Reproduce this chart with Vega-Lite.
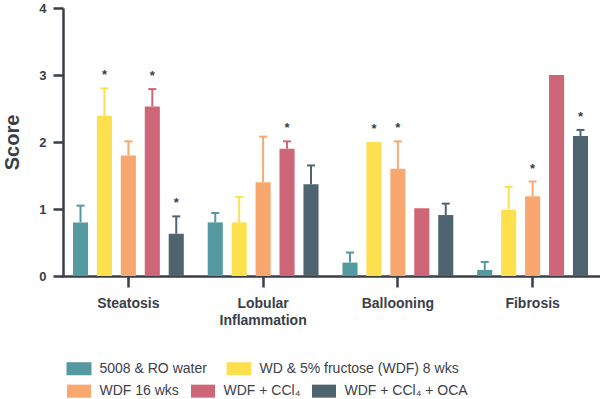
{
  "$schema": "https://vega.github.io/schema/vega-lite/v6.json",
  "width": 539,
  "height": 268,
  "autosize": {"type": "none"},
  "padding": {"left": 61, "top": 8, "right": 0, "bottom": 123},
  "background": "white",
  "config": {"view": {"stroke": null}, "font": "Liberation Sans"},
  "data": {
    "values": [
      {"cat": "Steatosis", "group": "5008 & RO water", "value": 0.8, "hi": 1.05, "star": false},
      {"cat": "Steatosis", "group": "WD & 5% fructose (WDF) 8 wks", "value": 2.39, "hi": 2.8, "star": true},
      {"cat": "Steatosis", "group": "WDF 16 wks", "value": 1.8, "hi": 2.01, "star": false},
      {"cat": "Steatosis", "group": "WDF + CCl₄", "value": 2.53, "hi": 2.79, "star": true},
      {"cat": "Steatosis", "group": "WDF + CCl₄ +  OCA", "value": 0.63, "hi": 0.89, "star": true},
      {"cat": "Lobular Inflammation", "group": "5008 & RO water", "value": 0.8, "hi": 0.94, "star": false},
      {"cat": "Lobular Inflammation", "group": "WD & 5% fructose (WDF) 8 wks", "value": 0.8, "hi": 1.18, "star": false},
      {"cat": "Lobular Inflammation", "group": "WDF 16 wks", "value": 1.4, "hi": 2.08, "star": false},
      {"cat": "Lobular Inflammation", "group": "WDF + CCl₄", "value": 1.9, "hi": 2.01, "star": true},
      {"cat": "Lobular Inflammation", "group": "WDF + CCl₄ +  OCA", "value": 1.37, "hi": 1.65, "star": false},
      {"cat": "Ballooning", "group": "5008 & RO water", "value": 0.2, "hi": 0.35, "star": false},
      {"cat": "Ballooning", "group": "WD & 5% fructose (WDF) 8 wks", "value": 2.0, "hi": null, "star": true},
      {"cat": "Ballooning", "group": "WDF 16 wks", "value": 1.6, "hi": 2.01, "star": true},
      {"cat": "Ballooning", "group": "WDF + CCl₄", "value": 1.01, "hi": null, "star": false},
      {"cat": "Ballooning", "group": "WDF + CCl₄ +  OCA", "value": 0.91, "hi": 1.08, "star": false},
      {"cat": "Fibrosis", "group": "5008 & RO water", "value": 0.09, "hi": 0.21, "star": false},
      {"cat": "Fibrosis", "group": "WD & 5% fructose (WDF) 8 wks", "value": 0.99, "hi": 1.33, "star": false},
      {"cat": "Fibrosis", "group": "WDF 16 wks", "value": 1.19, "hi": 1.41, "star": true},
      {"cat": "Fibrosis", "group": "WDF + CCl₄", "value": 3.0, "hi": null, "star": false},
      {"cat": "Fibrosis", "group": "WDF + CCl₄ +  OCA", "value": 2.09, "hi": 2.18, "star": true}
    ]
  },
  "encoding": {
    "x": {
      "field": "cat", "type": "nominal",
      "sort": ["Steatosis", "Lobular Inflammation", "Ballooning", "Fibrosis"],
      "scale": {"paddingInner": 0, "paddingOuter": 0},
      "axis": {
        "title": null, "labelAngle": 0,
        "domainColor": "#3a3e48", "domainWidth": 2.5,
        "tickColor": "#3a3e48", "tickWidth": 2.5, "tickSize": 11,
        "labelFont": "Liberation Sans", "labelFontWeight": "bold", "labelFontSize": 14,
        "labelColor": "#3a3e48", "labelPadding": 9, "labelLineHeight": 17,
        "labelExpr": "datum.label == 'Lobular Inflammation' ? ['Lobular', 'Inflammation'] : datum.label"
      }
    },
    "xOffset": {
      "field": "group", "type": "nominal",
      "scale": {
        "domain": ["5008 & RO water", "WD & 5% fructose (WDF) 8 wks", "WDF 16 wks", "WDF + CCl₄", "WDF + CCl₄ +  OCA"],
        "paddingInner": 0.37, "paddingOuter": 0.5
      }
    }
  },
  "layer": [
    {
      "mark": {"type": "bar", "strokeWidth": 0},
      "encoding": {
        "y": {
          "field": "value", "type": "quantitative",
          "scale": {"domain": [0, 4]},
          "axis": {
            "title": "Score", "values": [0, 1, 2, 3, 4], "format": "d", "grid": false, "offset": -2,
            "domainColor": "#3a3e48", "domainWidth": 2.5,
            "tickColor": "#3a3e48", "tickWidth": 2.5, "tickSize": 10,
            "labelFont": "Liberation Sans", "labelFontWeight": "bold", "labelFontSize": 13,
            "labelColor": "#3a3e48", "labelPadding": 7,
            "titleFont": "Liberation Sans", "titleFontSize": 20, "titleFontWeight": "bold",
            "titleColor": "#3a3e48", "titlePadding": 16
          }
        },
        "fill": {
          "field": "group", "type": "nominal",
          "scale": {
            "domain": ["5008 & RO water", "WD & 5% fructose (WDF) 8 wks", "WDF 16 wks", "WDF + CCl₄", "WDF + CCl₄ +  OCA"],
            "range": ["#5498a0", "#fee04e", "#f8a86f", "#cf6677", "#4e6570"]
          },
          "legend": {
            "title": null, "orient": "none", "legendX": 5.5, "legendY": 348,
            "direction": "horizontal",
            "values": ["5008 & RO water", "WD & 5% fructose (WDF) 8 wks"],
            "columnPadding": 19,
            "symbolType": "M-1,-0.52H1V0.52H-1Z", "symbolSize": 625,
            "symbolStrokeWidth": 0, "symbolOpacity": 1,
            "labelOffset": 8, "labelFontSize": 14, "labelFont": "Liberation Sans",
            "labelColor": "#3d4049", "labelLimit": 400,
            "encode": {"symbols": {"update": {"fill": {"scale": "fill", "field": "value"}, "stroke": {"value": "transparent"}}}}
          }
        },
        "stroke": {
          "field": "group", "type": "nominal",
          "scale": {
            "domain": ["WDF 16 wks", "WDF + CCl₄", "WDF + CCl₄ +  OCA", "5008 & RO water", "WD & 5% fructose (WDF) 8 wks"],
            "range": ["#f8a86f", "#cf6677", "#4e6570", "#5498a0", "#fee04e"]
          },
          "legend": {
            "title": null, "orient": "none", "legendX": 5.5, "legendY": 370.4,
            "direction": "horizontal",
            "values": ["WDF 16 wks", "WDF + CCl₄", "WDF + CCl₄ +  OCA"],
            "columnPadding": -15,
            "symbolType": "M-2,0H2", "symbolSize": 144,
            "symbolStrokeWidth": 13, "symbolOpacity": 1, "symbolFillColor": "transparent",
            "labelOffset": 8, "labelFontSize": 14, "labelFont": "Liberation Sans",
            "labelColor": "#3d4049", "labelLimit": 400,
            "labelExpr": "datum.label == 'WDF 16 wks' ? 'WDF 16 wks\u00a0\u00a0\u00a0\u00a0\u00a0\u00a0\u00a0\u00a0\u00a0\u00a0\u00a0\u00a0\u00a0\u00a0\u00a0\u00a0\u00a0' : datum.label"
          }
        }
      }
    },
    {
      "transform": [{"filter": "datum.hi != null"}],
      "mark": {"type": "rule", "strokeWidth": 2},
      "encoding": {
        "y": {"field": "value", "type": "quantitative"},
        "y2": {"field": "hi"},
        "stroke": {"field": "group", "type": "nominal", "legend": null}
      }
    },
    {
      "transform": [{"filter": "datum.hi != null"}],
      "mark": {"type": "tick", "thickness": 2, "size": 8, "opacity": 1},
      "encoding": {
        "y": {"field": "hi", "type": "quantitative"},
        "fill": {"field": "group", "type": "nominal", "legend": null}
      }
    },
    {
      "transform": [
        {"filter": "datum.star"},
        {"calculate": "datum.hi != null ? datum.hi : datum.value", "as": "top"}
      ],
      "mark": {"type": "text", "text": "*", "baseline": "alphabetic", "dy": -9, "fontSize": 13, "fontWeight": "bold", "font": "Liberation Sans", "color": "#3a3e48"},
      "encoding": {
        "y": {"field": "top", "type": "quantitative"}
      }
    }
  ]
}
